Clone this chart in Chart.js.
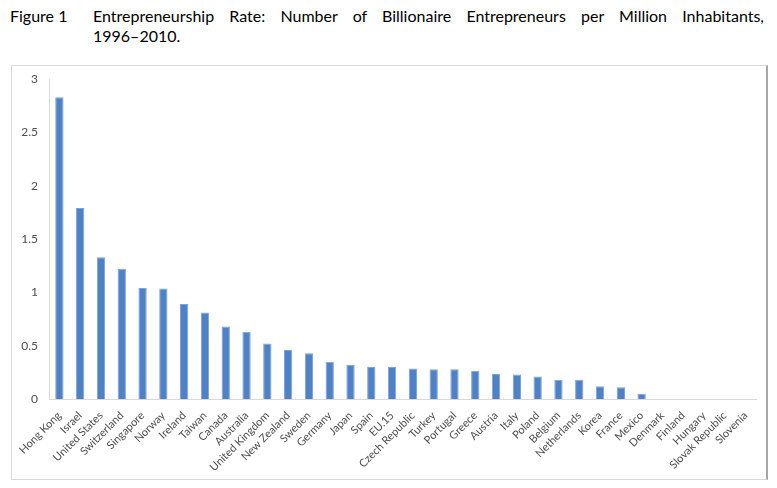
<!DOCTYPE html>
<html>
<head>
<meta charset="utf-8">
<script src="https://cdn.jsdelivr.net/npm/chart.js@4"></script>
<style>
  body { margin: 0; background: #fff; font-family: Lato, sans-serif; color: #000; }
  #page { position: relative; width: 777px; height: 488px; }
  #fig { position: absolute; left: 10px; top: 6px; font-size: 16px; line-height: 20px; }
  #title { position: absolute; left: 93px; top: 6px; width: 671px; font-size: 16px; line-height: 20px; }
  #title .l1 { text-align: justify; text-align-last: justify; }
  #box { position: absolute; left: 11px; top: 65px; width: 754px; height: 413px;
         border: 1px solid #d9d9d9; border-right: 2px solid #a6a6a6; }
  #myChart { position: absolute; left: 0; top: 0; }
</style>
</head>
<body>
<div id="page">
  <div id="fig">Figure 1</div>
  <div id="title">
    <div class="l1">Entrepreneurship Rate: Number of Billionaire Entrepreneurs per Million Inhabitants,</div>
    <div>1996–2010.</div>
  </div>
  <div id="box"><canvas id="myChart" width="754" height="413"></canvas></div>
</div>
<script>
// data
const countries = ['Hong Kong', 'Israel', 'United States', 'Switzerland', 'Singapore', 'Norway',
  'Ireland', 'Taiwan', 'Canada', 'Australia', 'United Kingdom', 'New Zealand', 'Sweden',
  'Germany', 'Japan', 'Spain', 'EU.15', 'Czech Republic', 'Turkey', 'Portugal', 'Greece',
  'Austria', 'Italy', 'Poland', 'Belgium', 'Netherlands', 'Korea', 'France', 'Mexico',
  'Denmark', 'Finland', 'Hungary', 'Slovak Republic', 'Slovenia'];
const rates = [2.83, 1.79, 1.33, 1.22, 1.04, 1.035, 0.89, 0.81, 0.68, 0.63, 0.52, 0.46, 0.43,
  0.35, 0.32, 0.30, 0.30, 0.285, 0.28, 0.28, 0.265, 0.235, 0.23, 0.21, 0.18, 0.18, 0.12, 0.11,
  0.05, 0, 0, 0, 0, 0];
const yMax = 3;
const yStep = 0.5;

Chart.defaults.font.family = 'Lato, sans-serif';
Chart.defaults.color = '#4d4d4d';

var ctx = document.getElementById('myChart');
var myChart = new Chart(ctx, {
  type: 'bar',
  data: {
    labels: countries,
    datasets: [{
      data: rates,
      backgroundColor: '#4f81c6',
      borderColor: '#7ea2d8',
      borderWidth: { left: 1, right: 1, top: 1, bottom: 0 },
      barPercentage: 0.4,
      categoryPercentage: 1
    }]
  },
  options: {
    responsive: false,
    animation: false,
    layout: { padding: { top: 13, right: 10, left: 0, bottom: 0 } },
    plugins: { legend: { display: false }, tooltip: { enabled: false } },
    scales: {
      x: {
        grid: { display: false },
        border: { color: '#d9d9d9' },
        ticks: { minRotation: 45, maxRotation: 45, font: { size: 11 }, padding: 2, autoSkip: false },
        afterFit: function(scale) { scale.height = 80; }
      },
      y: {
        min: 0, max: yMax,
        grid: { display: false },
        border: { color: '#d9d9d9' },
        ticks: {
          stepSize: yStep, font: { size: 12 }, padding: 3,
          callback: function(v) { return String(v); }
        },
        afterFit: function(scale) { scale.width = 37; }
      }
    }
  }
});
</script>
</body>
</html>
